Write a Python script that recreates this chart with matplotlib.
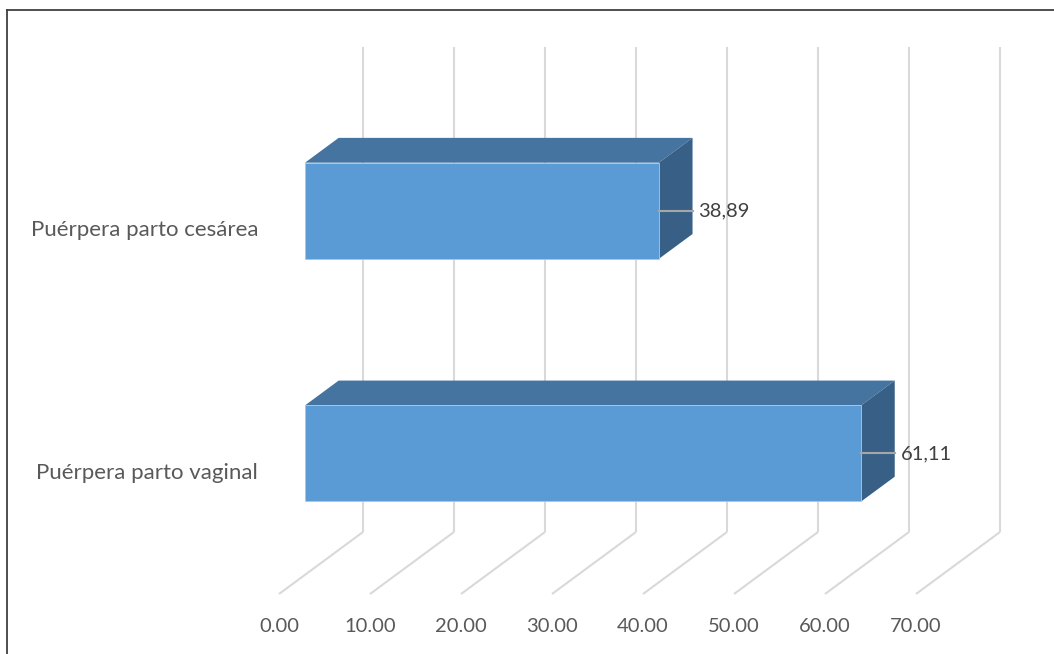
import matplotlib
matplotlib.use("Agg")
import matplotlib.pyplot as plt
from matplotlib.patches import Polygon

# Data
categories = ["Puérpera parto vaginal", "Puérpera parto cesárea"]
values = [61.11, 38.89]
ticks = [0, 10, 20, 30, 40, 50, 60, 70]

# Figure / oblique 3-D projection set-up
W, H = 1054, 654
fig = plt.figure(figsize=(W / 100, H / 100), dpi=100)
ax = fig.add_axes([0, 0, 1, 1])
ax.set_axis_off()

PX_PER_VAL = 9.1       # pixels per value unit
PX_PER_CAT = 242.7     # pixels per category step
X0_PX = 279            # pixel x of value 0 at the front edge of the floor
FLOOR_PX = 60          # pixel y (from bottom) of the front floor edge
DEPTH_X = 84 / PX_PER_VAL
DEPTH_Y = 62 / PX_PER_CAT
C_MIN, C_MAX = -0.5, 1.5
BAR_HALF = 0.198
D0, D1 = 0.31, 0.71    # bar depth span

ax.set_xlim(-X0_PX / PX_PER_VAL, (W - X0_PX) / PX_PER_VAL)
ax.set_ylim(C_MIN - FLOOR_PX / PX_PER_CAT, C_MIN + (H - FLOOR_PX) / PX_PER_CAT)


def proj(v, c, d):
    return (v + d * DEPTH_X, c + d * DEPTH_Y)


font = "Lato"
GRID = "#d9d9d9"
TXT = "#595959"

# Back wall and floor gridlines
for t in ticks:
    x0, y0 = proj(t, C_MIN, 1)
    x1, y1 = proj(t, C_MAX, 1)
    ax.plot([x0, x1], [y0, y1], color=GRID, lw=1.5, solid_capstyle="butt", zorder=1)
    xf, yf = proj(t, C_MIN, 0)
    ax.plot([xf, x0], [yf, y0], color=GRID, lw=1.5, solid_capstyle="butt", zorder=1)
    ax.text(xf, yf - 33 / PX_PER_CAT, f"{t:.2f}", ha="center", va="center",
            fontsize=14.5, color=TXT, family=font)

# Bars
FRONT = "#5b9bd5"
TOP = "#44749f"
SIDE = "#386087"
for i, (cat, v) in enumerate(zip(categories, values)):
    lo, hi = i - BAR_HALF, i + BAR_HALF
    front = [proj(0, lo, D0), proj(v, lo, D0), proj(v, hi, D0), proj(0, hi, D0)]
    top = [proj(0, hi, D0), proj(v, hi, D0), proj(v, hi, D1), proj(0, hi, D1)]
    side = [proj(v, lo, D0), proj(v, hi, D0), proj(v, hi, D1), proj(v, lo, D1)]
    ax.add_patch(Polygon(top, closed=True, fc=TOP, ec="none", zorder=3))
    ax.add_patch(Polygon(side, closed=True, fc=SIDE, ec="none", zorder=3))
    ax.add_patch(Polygon(front, closed=True, fc=FRONT, ec="#a9c8e8", lw=0.6,
                         zorder=4))

    # Leader line and value label
    lx0, ly = proj(v, i, D0)
    lx1 = proj(v, i, D1)[0]
    ax.plot([lx0, lx1], [ly, ly], color="#a6a6a6", lw=1.5, zorder=5)
    ax.text(lx1 + 6 / PX_PER_VAL, ly, f"{v:.2f}".replace(".", ","),
            ha="left", va="center", fontsize=14.5, color="#404040", family=font)

    # Category label
    cx, cy = proj(0, i, 0)
    ax.text(cx - 21 / PX_PER_VAL, cy, cat, ha="right", va="center",
            fontsize=16, color=TXT, family=font)

# Chart border (top and left edges visible)
fig.add_artist(plt.Line2D([6.5 / W, 1], [1 - 9.5 / H, 1 - 9.5 / H],
                          transform=fig.transFigure, color="#404040", lw=1.3))
fig.add_artist(plt.Line2D([6.5 / W, 6.5 / W], [0, 1 - 9.5 / H],
                          transform=fig.transFigure, color="#404040", lw=1.3))

fig.savefig("out.png", dpi=100)
